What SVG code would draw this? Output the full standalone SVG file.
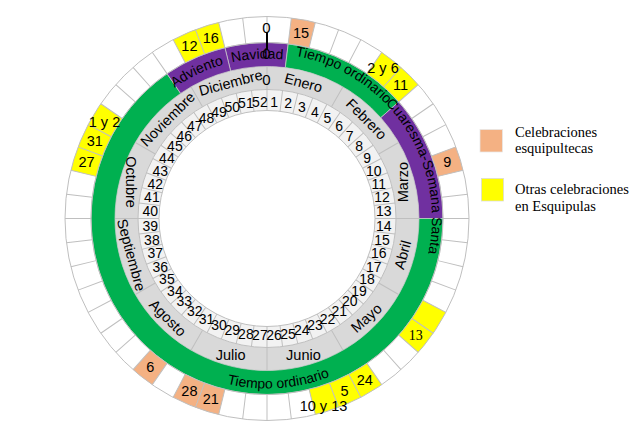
<svg xmlns="http://www.w3.org/2000/svg" width="634" height="436" viewBox="0 0 634 436">
<style>
.s{font-family:"Liberation Sans",Arial,sans-serif;fill:#000}
.c{text-anchor:middle;dominant-baseline:central}
.wk{font-size:14px}
.mo{font-size:14.5px}
.ol{font-size:14.5px}
.lt{font-size:14px}
.lg{font-family:"Liberation Serif","Times New Roman",serif;font-size:14.5px;fill:#000}
.sep{stroke:#BFBFBF;stroke-width:1;fill:none}
.seg{stroke:#C8C8C8;stroke-width:0.75}
</style>
<defs>
<path id="cell" d="M267,16.5 A202,202 0 0 1 291.35,17.97 L288.22,43.78 A176,176 0 0 0 267,42.5 Z"/>
<path id="sep" d="M267,16.5V42.5M267,394.5V420.5M267,89.5V110.5M267,326.5V347.5"/>
<path id="msep" d="M267,66.5V89.5M267,347.5V370.5"/>
<path id="cwArc" d="M107,218.5 A160,160 0 1 1 427,218.5 A160,160 0 1 1 107,218.5"/>
<path id="cwArc2" d="M102,218.5 A165,165 0 1 1 432,218.5 A165,165 0 1 1 102,218.5"/>
<path id="ccwArc" d="M97,218.5 A170,170 0 0 0 437,218.5"/>
</defs>
<rect width="634" height="436" fill="#fff"/>

<g id="rings">
<circle cx="267" cy="218.5" r="189" fill="none" stroke="#fff" stroke-width="26"/>
<circle cx="267" cy="218.5" r="140.5" fill="none" stroke="#D9D9D9" stroke-width="23"/>
<circle cx="267" cy="218.5" r="118.5" fill="none" stroke="#F2F2F2" stroke-width="21"/>
</g>

<g id="liturgical">
<path class="seg" fill="#7030A0" d="M224.88,47.61 A176,176 0 0 1 288.22,43.78 L285.32,67.61 A152,152 0 0 0 230.62,70.92 Z"/>
<path class="seg" fill="#00B050" d="M288.22,43.78 A176,176 0 0 1 398.74,101.79 L380.77,117.71 A152,152 0 0 0 285.32,67.61 Z"/>
<path class="seg" fill="#7030A0" d="M398.74,101.79 A176,176 0 0 1 443,218.5 L419,218.5 A152,152 0 0 0 380.77,117.71 Z"/>
<path class="seg" fill="#00B050" d="M443,218.5 A176,176 0 1 1 167.02,73.66 L180.65,93.41 A152,152 0 1 0 419,218.5 Z"/>
<path class="seg" fill="#7030A0" d="M167.02,73.66 A176,176 0 0 1 224.88,47.61 L230.62,70.92 A152,152 0 0 0 180.65,93.41 Z"/>
</g>

<g id="celebrations">
<use href="#cell" fill="#F4B183" transform="rotate(6.923 267 218.5)"/>
<use href="#cell" fill="#FFFF00" transform="rotate(34.615 267 218.5)"/>
<use href="#cell" fill="#FFFF00" transform="rotate(41.538 267 218.5)"/>
<use href="#cell" fill="#F4B183" transform="rotate(69.231 267 218.5)"/>
<use href="#cell" fill="#FFFF00" transform="rotate(117.692 267 218.5)"/>
<use href="#cell" fill="#FFFF00" transform="rotate(124.615 267 218.5)"/>
<use href="#cell" fill="#FFFF00" transform="rotate(145.385 267 218.5)"/>
<use href="#cell" fill="#FFFF00" transform="rotate(152.308 267 218.5)"/>
<use href="#cell" fill="#FFFF00" transform="rotate(159.231 267 218.5)"/>
<use href="#cell" fill="#F4B183" transform="rotate(193.846 267 218.5)"/>
<use href="#cell" fill="#F4B183" transform="rotate(200.769 267 218.5)"/>
<use href="#cell" fill="#F4B183" transform="rotate(214.615 267 218.5)"/>
<use href="#cell" fill="#FFFF00" transform="rotate(283.846 267 218.5)"/>
<use href="#cell" fill="#FFFF00" transform="rotate(290.769 267 218.5)"/>
<use href="#cell" fill="#FFFF00" transform="rotate(297.692 267 218.5)"/>
<use href="#cell" fill="#FFFF00" transform="rotate(332.308 267 218.5)"/>
<use href="#cell" fill="#FFFF00" transform="rotate(339.231 267 218.5)"/>
</g>

<g id="separators" class="sep">
<use href="#sep"/>
<use href="#sep" transform="rotate(6.923 267 218.5)"/>
<use href="#sep" transform="rotate(13.846 267 218.5)"/>
<use href="#sep" transform="rotate(20.769 267 218.5)"/>
<use href="#sep" transform="rotate(27.692 267 218.5)"/>
<use href="#sep" transform="rotate(34.615 267 218.5)"/>
<use href="#sep" transform="rotate(41.538 267 218.5)"/>
<use href="#sep" transform="rotate(48.462 267 218.5)"/>
<use href="#sep" transform="rotate(55.385 267 218.5)"/>
<use href="#sep" transform="rotate(62.308 267 218.5)"/>
<use href="#sep" transform="rotate(69.231 267 218.5)"/>
<use href="#sep" transform="rotate(76.154 267 218.5)"/>
<use href="#sep" transform="rotate(83.077 267 218.5)"/>
<use href="#sep" transform="rotate(90 267 218.5)"/>
<use href="#sep" transform="rotate(96.923 267 218.5)"/>
<use href="#sep" transform="rotate(103.846 267 218.5)"/>
<use href="#sep" transform="rotate(110.769 267 218.5)"/>
<use href="#sep" transform="rotate(117.692 267 218.5)"/>
<use href="#sep" transform="rotate(124.615 267 218.5)"/>
<use href="#sep" transform="rotate(131.538 267 218.5)"/>
<use href="#sep" transform="rotate(138.462 267 218.5)"/>
<use href="#sep" transform="rotate(145.385 267 218.5)"/>
<use href="#sep" transform="rotate(152.308 267 218.5)"/>
<use href="#sep" transform="rotate(159.231 267 218.5)"/>
<use href="#sep" transform="rotate(166.154 267 218.5)"/>
<use href="#sep" transform="rotate(173.077 267 218.5)"/>
<use href="#msep"/>
<use href="#msep" transform="rotate(30 267 218.5)"/>
<use href="#msep" transform="rotate(60 267 218.5)"/>
<use href="#msep" transform="rotate(90 267 218.5)"/>
<use href="#msep" transform="rotate(120 267 218.5)"/>
<use href="#msep" transform="rotate(150 267 218.5)"/>
<circle cx="267" cy="218.5" r="202"/>
<circle cx="267" cy="218.5" r="176"/>
<circle cx="267" cy="218.5" r="129"/>
<circle cx="267" cy="218.5" r="108"/>
</g>

<g id="weeks" class="s c wk">
<text x="274.1" y="101.7">1</text>
<text x="288.1" y="103.4">2</text>
<text x="301.8" y="106.8">3</text>
<text x="315" y="111.8">4</text>
<text x="327.5" y="118.4">5</text>
<text x="339.2" y="126.4">6</text>
<text x="349.7" y="135.8">7</text>
<text x="359.1" y="146.3">8</text>
<text x="367.1" y="158">9</text>
<text x="373.7" y="170.5">10</text>
<text x="378.7" y="183.7">11</text>
<text x="382.1" y="197.4">12</text>
<text x="383.8" y="211.4">13</text>
<text x="383.8" y="225.6">14</text>
<text x="382.1" y="239.6">15</text>
<text x="378.7" y="253.3">16</text>
<text x="373.7" y="266.5">17</text>
<text x="367.1" y="279">18</text>
<text x="359.1" y="290.7">19</text>
<text x="349.7" y="301.2">20</text>
<text x="339.2" y="310.6">21</text>
<text x="327.5" y="318.6">22</text>
<text x="315" y="325.2">23</text>
<text x="301.8" y="330.2">24</text>
<text x="288.1" y="333.6">25</text>
<text x="274.1" y="335.3">26</text>
<text x="259.9" y="335.3">27</text>
<text x="245.9" y="333.6">28</text>
<text x="232.2" y="330.2">29</text>
<text x="219" y="325.2">30</text>
<text x="206.5" y="318.6">31</text>
<text x="194.8" y="310.6">32</text>
<text x="184.3" y="301.2">33</text>
<text x="174.9" y="290.7">34</text>
<text x="166.9" y="279">35</text>
<text x="160.3" y="266.5">36</text>
<text x="155.3" y="253.3">37</text>
<text x="151.9" y="239.6">38</text>
<text x="150.2" y="225.6">39</text>
<text x="150.2" y="211.4">40</text>
<text x="151.9" y="197.4">41</text>
<text x="155.3" y="183.7">42</text>
<text x="160.3" y="170.5">43</text>
<text x="166.9" y="158">44</text>
<text x="174.9" y="146.3">45</text>
<text x="184.3" y="135.8">46</text>
<text x="194.8" y="126.4">47</text>
<text x="206.5" y="118.4">48</text>
<text x="219" y="111.8">49</text>
<text x="232.2" y="106.8">50</text>
<text x="245.9" y="103.4">51</text>
<text x="259.9" y="101.7">52</text>
</g>

<g id="months" class="s c mo">
<text transform="translate(303.4 82.8) rotate(15)">Enero</text>
<text transform="translate(366.4 119.2) rotate(45)">Febrero</text>
<text transform="translate(402.7 182.1) rotate(-90)">Marzo</text>
<text transform="translate(402.7 254.9) rotate(-75)">Abril</text>
<text transform="translate(366.4 317.9) rotate(-42)">Mayo</text>
<text transform="translate(303.4 354.5)">Junio</text>
<text transform="translate(230.6 354.5)">Julio</text>
<text transform="translate(167.7 317.9) rotate(45)">Agosto</text>
<text transform="translate(131.3 254.9) rotate(75)">Septiembre</text>
<text transform="translate(131.3 182.1) rotate(90)">Octubre</text>
<text transform="translate(167.7 119.2) rotate(-45)">Noviembre</text>
<text transform="translate(230.6 82.8) rotate(-15)">Diciembre</text>
</g>

<g id="seasons" class="s lt">
<text text-anchor="middle"><textPath href="#cwArc" startOffset="241.7">Navidad</textPath></text>
<text text-anchor="middle"><textPath href="#cwArc" startOffset="180">Adviento</textPath></text>
<text text-anchor="middle"><textPath href="#cwArc2" startOffset="340">Tiempo ordinario</textPath></text>
<text text-anchor="middle"><textPath href="#cwArc2" startOffset="472.3">Cuaresma-Semana Santa</textPath></text>
<text text-anchor="middle"><textPath href="#ccwArc" startOffset="278.9">Tiempo ordinario</textPath></text>
</g>

<g id="axis">
<line x1="267" y1="32" x2="267" y2="50" stroke="#000" stroke-width="2"/>
<text class="s c" font-size="15" x="266.5" y="27.5">0</text>
<text class="s c" font-size="15" x="266.5" y="53.5">0</text>
<text class="s c" font-size="15" x="266.5" y="79">0</text>
</g>

<g id="dates" class="s c ol">
<text x="301.1" y="32.6">15</text>
<text x="383" y="68">2 y 6</text>
<text x="400.6" y="84.9">11</text>
<text x="447.4" y="162.3">9</text>
<text x="415.8" y="335.1" style="font-family:'Liberation Serif','Times New Roman',serif;font-size:14px">13</text>
<text x="364.8" y="380.2">24</text>
<text x="344.6" y="390.9">5</text>
<text x="323.5" y="406">10 y 13</text>
<text x="210.8" y="398.9">21</text>
<text x="189.4" y="390.9">28</text>
<text x="150.4" y="367.3">6</text>
<text x="86.6" y="162.3">27</text>
<text x="94.7" y="140.9">31</text>
<text x="104.5" y="121.5">1 y 2</text>
<text x="189.4" y="46.2">12</text>
<text x="210.8" y="38.1">16</text>
</g>

<g id="legend">
<rect x="480" y="129.5" width="22.5" height="22.5" fill="#F4B183" stroke="#E8E8E8" stroke-width="0.75"/>
<rect x="481.5" y="178.5" width="22" height="22.5" fill="#FFFF00" stroke="#D9D9D9" stroke-width="0.75"/>
<text class="lg" x="515" y="137">Celebraciones</text>
<text class="lg" x="515" y="153">esquipultecas</text>
<text class="lg" x="515" y="194">Otras celebraciones</text>
<text class="lg" x="515" y="210.5">en Esquipulas</text>
</g>
</svg>
